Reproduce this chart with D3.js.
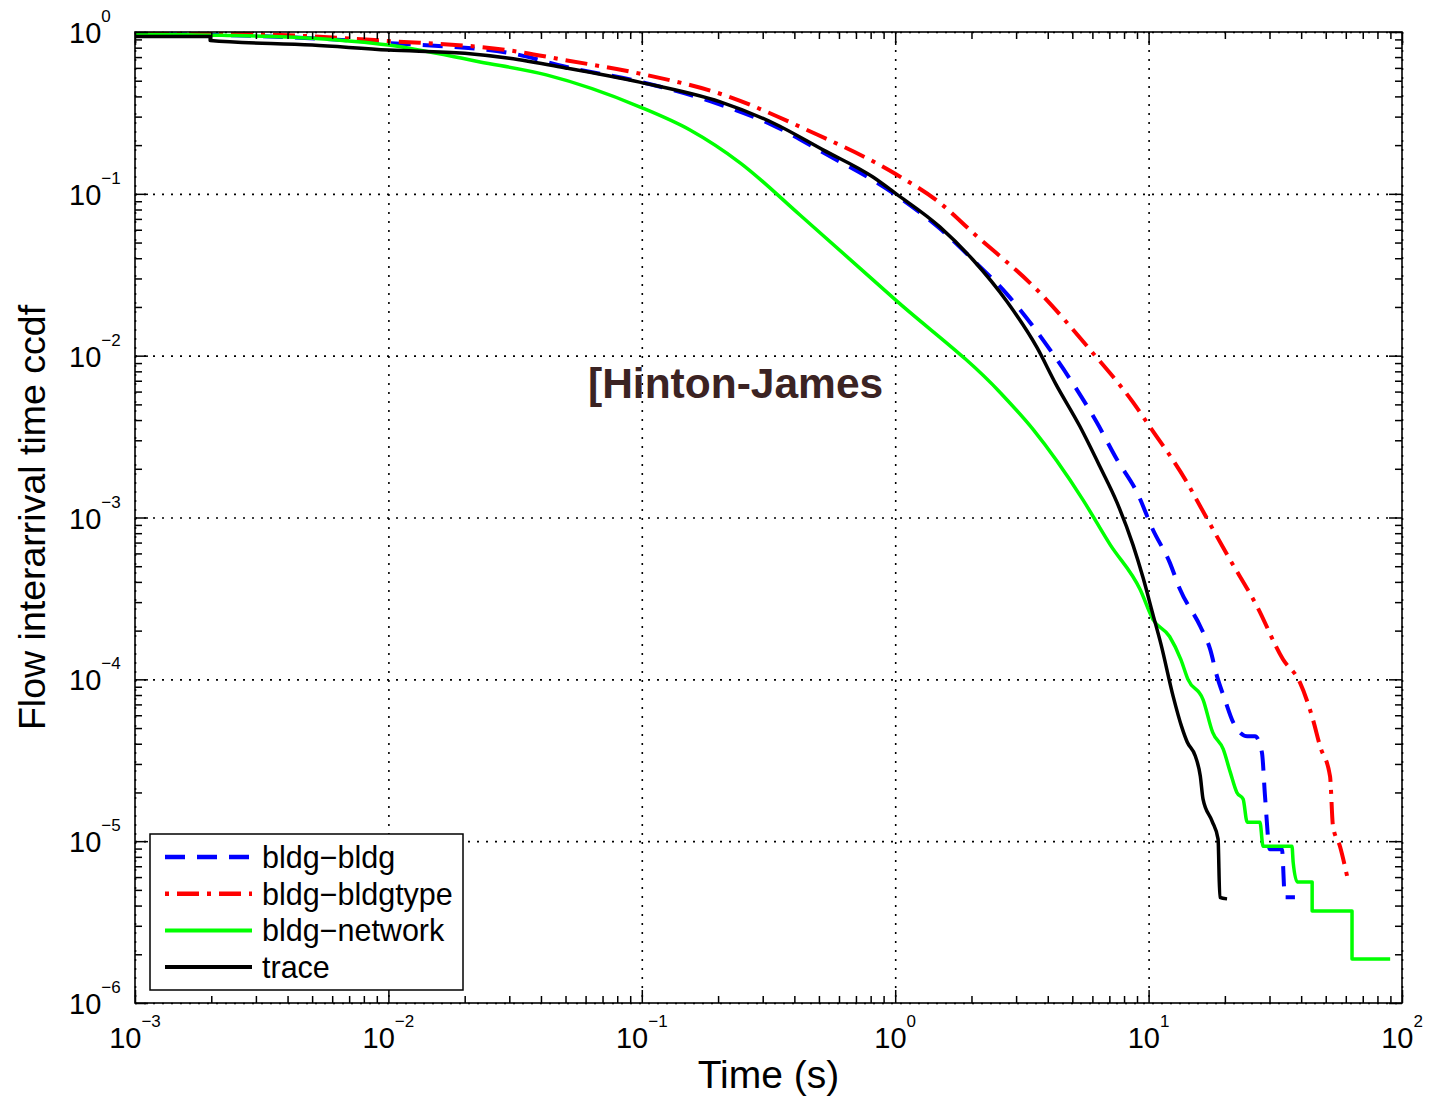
<!DOCTYPE html>
<html>
<head>
<meta charset="utf-8">
<script src="https://cdn.jsdelivr.net/npm/d3@7"></script>
<style>
  body { margin: 0; background: #fff; }
  svg { display: block; font-family: "Liberation Sans", Arial, Helvetica, sans-serif; }
</style>
</head>
<body>
<svg id="chart" width="1430" height="1101"></svg>
<script>
// values: time (s) and ccdf
const bldgBldgT = [0.001, 0.003, 0.01, 0.03, 0.05, 0.1, 0.2, 0.33, 0.52, 1.0, 1.5, 2.03, 2.76, 3.0, 4.08, 5.21, 6.25, 7.5, 9.0, 10.4, 12.1, 13.3, 16.0, 17.5, 18.6, 20.0, 21.6, 24.5, 26.3, 28.0, 28.8, 30.1, 33.6, 34.5, 37.8];
const bldgBldgP = [0.97, 0.945, 0.855, 0.742, 0.61, 0.49, 0.36, 0.265, 0.18, 0.099, 0.061, 0.039, 0.024, 0.0206, 0.0109, 0.00617, 0.00386, 0.00228, 0.00143, 8.4e-4, 5.3e-4, 3.6e-4, 2.12e-4, 1.53e-4, 1.05e-4, 7.5e-5, 5.4e-5, 4.45e-5, 4.45e-5, 3.54e-5, 1.9e-5, 8.9e-6, 8.9e-6, 4.5e-6, 4.5e-6];

const bldgTypeT = [0.001, 0.003, 0.01, 0.03, 0.05, 0.1, 0.21, 0.449, 1.0, 1.5, 2.03, 3.72, 5.87, 8.67, 10.1, 14.2, 16.0, 20.4, 26.8, 33.9, 39.5, 44.5, 47.5, 52.0, 53.4, 56.9, 60.7];
const bldgTypeP = [0.99, 0.97, 0.88, 0.77, 0.67, 0.55, 0.409, 0.248, 0.133, 0.088, 0.0574, 0.0245, 0.0109, 0.00516, 0.00365, 0.00164, 0.00117, 5.9e-4, 2.82e-4, 1.33e-4, 9.6e-5, 5.66e-5, 3.86e-5, 2.52e-5, 1.24e-5, 9.3e-6, 6.1e-6];

const bldgNetT = [0.001, 0.0022, 0.005, 0.01, 0.023, 0.042, 0.098, 0.155, 0.245, 0.421, 1.0, 2.6, 3.5, 5.5, 7.05, 9.25, 10.4, 12.1, 13.4, 14.3, 16.4, 17.9, 19.7, 21.0, 22.3, 23.6, 24.5, 27.5, 28.3, 36.8, 37.2, 38.6, 44.2, 44.2, 63.5, 63.5, 89.8];
const bldgNetP = [0.97, 0.955, 0.915, 0.83, 0.653, 0.543, 0.345, 0.248, 0.155, 0.074, 0.0222, 0.0059, 0.0035, 0.00129, 6.8e-4, 3.6e-4, 2.35e-4, 1.84e-4, 1.33e-4, 1.0e-4, 7.5e-5, 4.7e-5, 3.7e-5, 2.67e-5, 2.0e-5, 1.82e-5, 1.31e-5, 1.31e-5, 9.3e-6, 9.3e-6, 7.4e-6, 5.6e-6, 5.6e-6, 3.7e-6, 3.7e-6, 1.87e-6, 1.87e-6];

const traceT = [0.001, 0.00198, 0.00198, 0.005, 0.01, 0.02, 0.03, 0.05, 0.098, 0.204, 0.33, 0.519, 0.817, 1.0, 1.5, 2.03, 2.76, 3.63, 4.3, 5.36, 6.43, 7.5, 8.67, 9.5, 10.4, 11.2, 12.5, 13.5, 14.2, 15.3, 16.0, 16.4, 17.8, 18.8, 19.1, 20.4];
const traceP = [0.938, 0.938, 0.886, 0.831, 0.774, 0.739, 0.688, 0.60, 0.49, 0.37, 0.274, 0.187, 0.127, 0.101, 0.0625, 0.039, 0.0216, 0.0112, 0.0067, 0.00365, 0.00206, 0.00124, 6.8e-4, 4.27e-4, 2.52e-4, 1.64e-4, 7.85e-5, 5.1e-5, 4.1e-5, 3.35e-5, 2.52e-5, 1.82e-5, 1.33e-5, 1.03e-5, 4.5e-6, 4.4e-6];

const seriesNames = ["bldg\u2212bldg", "bldg\u2212bldgtype", "bldg\u2212network", "trace"];
const xTickExps = [-3, -2, -1, 0, 1, 2];
const yTickExps = [0, -1, -2, -3, -4, -5, -6];

const xLabel = "Time (s)";
const yLabel = "Flow interarrival time ccdf";
const note = "[Hinton-James";

// line looks, in plot order (trace drawn last, on top)
const styles = [
  { color: "#0000ff", width: 4, dash: "20,12" },
  { color: "#ff0000", width: 4, dash: "4,8,22,8" },
  { color: "#00ff00", width: 3.5, dash: null },
  { color: "#000000", width: 3.5, dash: null }
];

const series = [
  d3.zip(bldgBldgT, bldgBldgP),
  d3.zip(bldgTypeT, bldgTypeP),
  d3.zip(bldgNetT, bldgNetP),
  d3.zip(traceT, traceP)
];

const svg = d3.select("#chart");
const margin = { top: 32, right: 28, bottom: 98, left: 135 };
const width = 1430 - margin.left - margin.right;
const height = 1101 - margin.top - margin.bottom;

const g = svg.append("g")
  .attr("transform", `translate(${margin.left},${margin.top})`);

const x = d3.scaleLog().domain([1e-3, 1e2]).range([0, width]);
const y = d3.scaleLog().domain([1e-6, 1]).range([height, 0]);

const xMajor = xTickExps.map(e => Math.pow(10, e));
const yMajor = yTickExps.map(e => Math.pow(10, e));
const isMajor = v => Math.abs(Math.log10(v) - Math.round(Math.log10(v))) < 1e-9;
const xMinor = x.ticks().filter(v => !isMajor(v));
const yMinor = y.ticks().filter(v => !isMajor(v));

const expText = e => (e < 0 ? "\u2212" + (-e) : String(e));

// dotted grid at decades
g.append("g").attr("class", "grid")
  .call(d3.axisBottom(x).tickValues(xMajor).tickSize(height).tickSizeOuter(0).tickFormat(""));
g.append("g").attr("class", "grid")
  .call(d3.axisRight(y).tickValues(yMajor).tickSize(width).tickSizeOuter(0).tickFormat(""));
g.selectAll(".grid .domain").remove();
g.selectAll(".grid line")
  .attr("stroke", "#000")
  .attr("stroke-width", 1.6)
  .attr("stroke-dasharray", "2,7");

// curves (monotone keeps the stair steps of the tails square)
g.append("clipPath").attr("id", "plot-clip")
  .append("rect").attr("width", width).attr("height", height);

const line = d3.line()
  .x(d => x(d[0]))
  .y(d => y(d[1]))
  .curve(d3.curveMonotoneX);

g.append("g").attr("clip-path", "url(#plot-clip)")
  .selectAll("path")
  .data(series)
  .join("path")
  .attr("d", line)
  .attr("fill", "none")
  .attr("stroke", (d, i) => styles[i].color)
  .attr("stroke-width", (d, i) => styles[i].width)
  .attr("stroke-dasharray", (d, i) => styles[i].dash)
  .attr("stroke-linejoin", "round");

// inward ticks on all four sides
function ticks(axis, values, size, transform) {
  const a = g.append("g").attr("class", "ticks")
    .attr("transform", transform || null)
    .call(axis.tickValues(values).tickSize(-size).tickSizeOuter(0).tickFormat(""));
  a.select(".domain").remove();
  a.selectAll("line").attr("stroke", "#000").attr("stroke-width", 1.5);
}
ticks(d3.axisBottom(x), xMajor, 13, `translate(0,${height})`);
ticks(d3.axisBottom(x), xMinor, 7, `translate(0,${height})`);
ticks(d3.axisTop(x), xMajor, 13);
ticks(d3.axisTop(x), xMinor, 7);
ticks(d3.axisLeft(y), yMajor, 13);
ticks(d3.axisLeft(y), yMinor, 7);
ticks(d3.axisRight(y), yMajor, 13, `translate(${width},0)`);
ticks(d3.axisRight(y), yMinor, 7, `translate(${width},0)`);

// frame
g.append("rect")
  .attr("width", width).attr("height", height)
  .attr("fill", "none").attr("stroke", "#000").attr("stroke-width", 1.6);

// tick labels with superscript exponents
xMajor.forEach((v, i) => {
  const t = g.append("text")
    .attr("x", x(v)).attr("y", height + 45)
    .attr("text-anchor", "middle")
    .attr("font-size", 29).attr("fill", "#000");
  t.append("tspan").text("10");
  t.append("tspan").attr("dy", -21).attr("font-size", 17).text(expText(xTickExps[i]));
});

yMajor.forEach((v, i) => {
  const t = g.append("text")
    .attr("x", -66).attr("y", y(v) + 11)
    .attr("font-size", 29).attr("fill", "#000");
  t.append("tspan").text("10");
  t.append("tspan").attr("dy", -21).attr("font-size", 17).text(expText(yTickExps[i]));
});

// axis titles
svg.append("text")
  .attr("x", margin.left + width / 2).attr("y", 1088)
  .attr("text-anchor", "middle")
  .attr("font-size", 39)
  .text(xLabel);

svg.append("text")
  .attr("transform", `translate(45,${margin.top + height / 2}) rotate(-90)`)
  .attr("text-anchor", "middle")
  .attr("font-size", 37.5)
  .text(yLabel);

// annotation
svg.append("text")
  .attr("x", 588).attr("y", 398)
  .attr("font-size", 42.5).attr("font-weight", "bold")
  .attr("fill", "#3b2323")
  .text(note);

// legend
const legend = svg.append("g").attr("transform", "translate(150,834)");
legend.append("rect")
  .attr("width", 313).attr("height", 156)
  .attr("fill", "#fff").attr("stroke", "#000").attr("stroke-width", 1.5);

const rows = legend.selectAll(".row")
  .data(seriesNames)
  .join("g")
  .attr("class", "row")
  .attr("transform", (d, i) => `translate(0,${23 + i * 36.7})`);

rows.append("line")
  .attr("x1", 15).attr("x2", 102)
  .attr("stroke", (d, i) => styles[i].color)
  .attr("stroke-width", (d, i) => styles[i].width + 0.5)
  .attr("stroke-dasharray", (d, i) => styles[i].dash);

rows.append("text")
  .attr("x", 112).attr("y", 11)
  .attr("font-size", 30.5)
  .text(d => d);
</script>
</body>
</html>
